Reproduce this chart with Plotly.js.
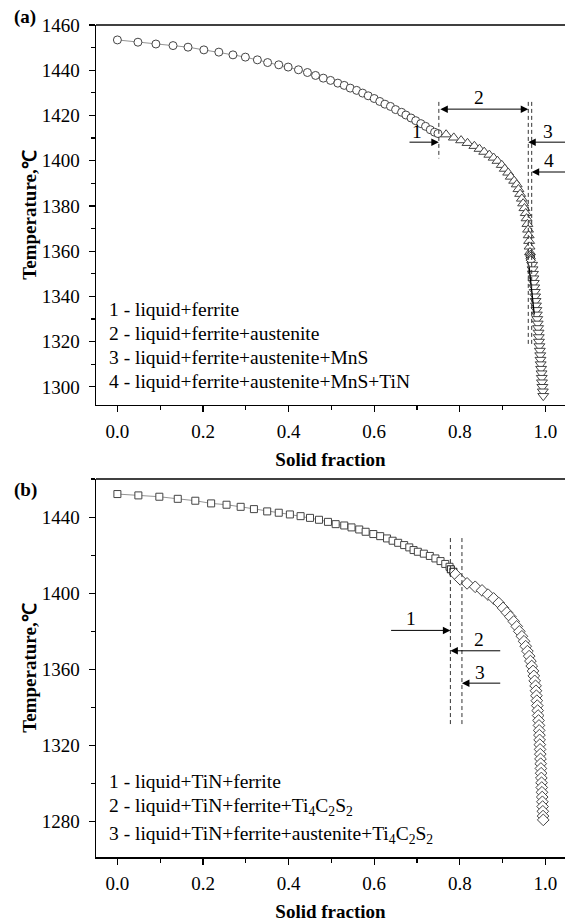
<!DOCTYPE html>
<html>
<head>
<meta charset="utf-8">
<script src="https://cdn.plot.ly/plotly-3.0.1.min.js"></script>
<style>
html,body{margin:0;padding:0;background:#fff;}
#chart{width:565px;height:922px;}
</style>
</head>
<body>
<div id="chart"></div>
<script>
// ---------- (a) Scheil solidification path ----------
// 1 - liquid+ferrite
const fsA1 = [0.000,0.048,0.090,0.130,0.165,0.202,0.237,0.270,0.299,0.327,0.351,0.377,0.399,0.423,0.444,0.463,0.481,0.498,0.515,0.530,0.544,0.559,0.573,0.586,0.600,0.613,0.625,0.638,0.650,0.664,0.674,0.686,0.697,0.709,0.720,0.731,0.741,0.749];
const tA1  = [1453.4,1452.4,1451.6,1450.9,1450.2,1449.0,1448.0,1446.8,1445.8,1444.6,1443.4,1442.4,1441.4,1440.2,1439.0,1437.7,1436.5,1435.5,1434.3,1433.3,1432.1,1431.1,1429.9,1428.7,1427.5,1426.2,1425.0,1424.0,1422.6,1421.4,1420.2,1418.9,1417.7,1416.4,1415.2,1413.7,1412.6,1412.0];
// 2 - liquid+ferrite+austenite
const fsA2 = [0.768,0.786,0.803,0.818,0.834,0.846,0.857,0.869,0.879,0.888,0.898,0.905,0.913,0.919,0.927,0.933,0.937,0.941,0.945,0.948,0.951,0.954,0.956,0.958,0.9595,0.961,0.962,0.963,0.964];
const tA2  = [1411.6,1410.2,1409.0,1407.8,1406.5,1405.2,1403.9,1402.6,1401.3,1399.9,1398.1,1396.4,1394.7,1392.9,1391.1,1389.5,1387.4,1385.3,1383.2,1381.1,1379.0,1376.8,1374.5,1372.0,1369.5,1367.0,1364.5,1362.0,1359.5];
// 3 - liquid+ferrite+austenite+MnS
const fsA3 = [0.9645,0.965,0.9655,0.966];
const tA3  = [1358.3,1357.5,1356.7,1356.0];
// 4 - liquid+ferrite+austenite+MnS+TiN
const fsA4 = [0.969,0.970,0.971,0.972,0.973,0.974,0.975,0.976,0.977,0.978,0.979,0.980,0.981,0.982,0.983,0.984,0.9845,0.985,0.986,0.987,0.988,0.9885,0.989,0.990,0.991,0.9915,0.992,0.993,0.994,0.995];
const tA4  = [1354,1352,1350,1348,1346,1344,1342,1340,1338,1336,1334,1332,1330,1328,1326,1324,1322,1320,1318,1316,1314,1312,1310,1308,1306,1304,1302,1300,1298,1296];
const fsA4line = [0.962,0.966,0.970,0.974];
const tA4line  = [1353,1346,1339,1332];
// phase boundaries (solid fraction) and labels
const boundA = [0.751,0.960,0.968];
const phaseTextA = ['1 - liquid+ferrite','2 - liquid+ferrite+austenite','3 - liquid+ferrite+austenite+MnS','4 - liquid+ferrite+austenite+MnS+TiN'];

// ---------- (b) Scheil solidification path ----------
// 1 - liquid+TiN+ferrite
const fsB1 = [0.000,0.049,0.098,0.141,0.182,0.219,0.255,0.288,0.319,0.350,0.377,0.403,0.428,0.450,0.471,0.492,0.510,0.530,0.547,0.565,0.580,0.598,0.614,0.630,0.643,0.656,0.670,0.682,0.692,0.702,0.716,0.730,0.743,0.755,0.766,0.776];
const tB1  = [1452.1,1451.4,1450.7,1449.6,1448.6,1447.2,1446.5,1445.4,1444.2,1443.0,1442.3,1441.4,1440.5,1439.6,1438.6,1437.5,1436.3,1435.6,1434.6,1433.5,1432.3,1431.1,1430.0,1428.8,1427.6,1426.5,1425.3,1424.1,1422.7,1421.8,1420.8,1419.6,1418.3,1416.9,1415.4,1413.9];
// 2 - liquid+TiN+ferrite+Ti4C2S2
const fsB2 = [0.779,0.785];
const tB2  = [1412.6,1411.3];
// 3 - liquid+TiN+ferrite+austenite+Ti4C2S2
const fsB3 = [0.790,0.801,0.817,0.836,0.852,0.866,0.879,0.891,0.901,0.910,0.918,0.926,0.933,0.939,0.945,0.950,0.954,0.958,0.962,0.965,0.968,0.971,0.973,0.975,0.977,0.978,
              0.979,0.980,0.981,0.982,0.983,0.984,0.985,0.9855,0.986,0.9865,0.987,0.9875,0.988,0.9885,0.989,0.9895,0.990,0.9905,0.991,0.9915,0.992,0.9925,0.993,0.9935,0.994,0.9945,0.995];
const tB3  = [1409.9,1407.3,1405.2,1403.4,1401.5,1399.3,1397.3,1394.9,1392.3,1389.9,1387.7,1385.2,1382.6,1380.0,1377.4,1374.8,1372.2,1369.6,1367.0,1364.4,1361.8,1359.2,1356.6,1354.0,1351.4,1348.8,
              1346.2,1343.6,1341.0,1338.4,1335.8,1333.2,1330.6,1328.0,1325.5,1323.0,1320.5,1318.0,1315.5,1313.0,1310.5,1308.0,1305.5,1303.0,1300.5,1298.0,1295.5,1293.0,1290.5,1288.0,1285.5,1283.0,1281.0];
const boundB = [0.778,0.805];
const phaseTextB = ['1 - liquid+TiN+ferrite','2 - liquid+TiN+ferrite+Ti<sub>4</sub>C<sub>2</sub>S<sub>2</sub>','3 - liquid+TiN+ferrite+austenite+Ti<sub>4</sub>C<sub>2</sub>S<sub>2</sub>'];

const xTicks = [0,0.2,0.4,0.6,0.8,1.0];

// ---------- styling ----------
const FONT = 'Liberation Serif, Times New Roman, serif';
const INK = '#000';
const TXT = 19.5;
function mk(symbol, size, lineColor){
  return {symbol:symbol, size:size, color:'#fff', line:{color:lineColor, width:1}};
}
function series(x, y, xa, ya, marker, withLine){
  return {x:x, y:y, xaxis:xa, yaxis:ya, type:'scatter',
    mode: withLine ? 'lines+markers' : 'markers',
    line:{color:'#777', width:0.8}, marker:marker, cliponaxis:false, hoverinfo:'x+y'};
}

const traces = [
  series(fsA1, tA1, 'x', 'y', mk('circle', 8, '#444'), true),
  series(fsA2, tA2, 'x', 'y', mk('triangle-up', 9.5, '#444'), false),
  series(fsA3, tA3, 'x', 'y', mk('diamond', 7, '#111'), false),
  series(fsA4, tA4, 'x', 'y', mk('triangle-down', 9.5, '#444'), false),
  {x:fsA4line, y:tA4line, xaxis:'x', yaxis:'y', type:'scatter', mode:'lines', line:{color:'#000', width:1.3}, hoverinfo:'x+y'},
  series(fsB1, tB1, 'x2', 'y2', mk('square', 7, '#444'), true),
  series(fsB2, tB2, 'x2', 'y2', mk('square', 7, '#111'), false),
  series(fsB3, tB3, 'x2', 'y2', mk('diamond', 9, '#444'), false)
];

function xAxis(anchor){
  return {anchor:anchor, range:[-0.05,1.0458], tickvals:xTicks, tickformat:'.1f',
    showline:true, linecolor:INK, linewidth:1.5, ticks:'outside', ticklen:6, tickwidth:1.2, tickcolor:INK,
    minor:{dtick:0.1, tick0:0, ticks:'outside', ticklen:4, tickwidth:1.2, tickcolor:INK},
    showgrid:false, zeroline:false, ticklabelstandoff:3,
    tickfont:{family:FONT, size:19, color:INK},
    title:{text:'<b>Solid fraction</b>', font:{family:FONT, size:19, color:INK}, standoff:11}};
}
function yAxis(range, dtick, mdtick, domain, anchor){
  return {anchor:anchor, domain:domain, range:range, dtick:dtick, tick0:0,
    showline:true, linecolor:INK, linewidth:1.5, ticks:'outside', ticklen:6, tickwidth:1.2, tickcolor:INK,
    minor:{dtick:mdtick, tick0:0, ticks:'outside', ticklen:4, tickwidth:1.2, tickcolor:INK},
    showgrid:false, zeroline:false, ticklabelstandoff:5,
    tickfont:{family:FONT, size:19, color:INK},
    title:{text:'<b>Temperature,℃</b>', font:{family:FONT, size:19, color:INK}, standoff:0}};
}

const shapes = [];
const annotations = [];
function frameTop(xa, ya){
  shapes.push({type:'line', xref:xa+' domain', yref:ya+' domain', x0:0, x1:1, y0:1, y1:1, line:{color:INK, width:1.5}});
}
function vdash(xa, ya, fs, tTop, tBot){
  shapes.push({type:'line', xref:xa, yref:ya, x0:fs, x1:fs, y0:tTop, y1:tBot, line:{color:'#333', width:1, dash:'4px,3px'}});
}
function arrow(xa, ya, xHead, xTail, t, both){
  annotations.push({xref:xa, yref:ya, axref:xa, ayref:ya, x:xHead, y:t, ax:xTail, ay:t, text:'',
    showarrow:true, arrowhead:2, arrowsize:1.5, arrowwidth:1, arrowcolor:INK,
    arrowside: both ? 'end+start' : 'end', startarrowhead:2, startarrowsize:1.5, standoff:0, startstandoff:0});
}
function label(xa, ya, x, y, text, anchor){
  annotations.push({xref:xa, yref:ya, x:x, y:y, text:text, showarrow:false, xanchor:anchor||'center', yanchor:'middle',
    font:{family:FONT, size:TXT, color:INK}});
}

// panel (a) guides
frameTop('x','y');
vdash('x','y', boundA[0], 1426, 1401);
vdash('x','y', boundA[1], 1426, 1319);
vdash('x','y', boundA[2], 1426, 1319);
arrow('x','y', boundA[1], boundA[0], 1422.8, true);
arrow('x','y', boundA[0], 0.679, 1408.2, false);
arrow('x','y', boundA[1], 1.05, 1408.2, false);
arrow('x','y', boundA[2], 1.05, 1395.0, false);
label('x','y', 0.846, 1428, '2');
label('x','y', 0.700, 1413, '1');
label('x','y', 1.006, 1413, '3');
label('x','y', 1.008, 1400, '4');
const listTA = [1334, 1323.5, 1313, 1302.5];
phaseTextA.forEach((s,i)=>label('x','y', -0.024, listTA[i], s, 'left'));

// panel (b) guides
frameTop('x2','y2');
vdash('x2','y2', boundB[0], 1429, 1331);
vdash('x2','y2', boundB[1], 1429, 1331);
arrow('x2','y2', boundB[0], 0.636, 1380.5, false);
arrow('x2','y2', boundB[0], 0.898, 1369.8, false);
arrow('x2','y2', boundB[1], 0.898, 1352.8, false);
label('x2','y2', 0.686, 1386.5, '1');
label('x2','y2', 0.844, 1375.5, '2');
label('x2','y2', 0.847, 1358.5, '3');
const listTB = [1301, 1287.7, 1273];
phaseTextB.forEach((s,i)=>label('x2','y2', -0.024, listTB[i], s, 'left'));

// panel tags
annotations.push({xref:'paper', yref:'paper', x:-0.151, y:1.01, text:'<b>(a)</b>', showarrow:false, xanchor:'center', yanchor:'middle', font:{family:FONT, size:19, color:INK}});
annotations.push({xref:'paper', yref:'paper', x:-0.151, y:0.441, text:'<b>(b)</b>', showarrow:false, xanchor:'center', yanchor:'middle', font:{family:FONT, size:19, color:INK}});

const layout = {
  width:565, height:922,
  margin:{l:96, r:0, t:25, b:65},
  paper_bgcolor:'#fff', plot_bgcolor:'#fff',
  showlegend:false,
  font:{family:FONT, size:19, color:INK},
  xaxis: xAxis('y'),
  yaxis: yAxis([1292,1460], 20, 10, [0.5433,1], 'x'),
  xaxis2: xAxis('y2'),
  yaxis2: yAxis([1261.5,1460], 40, 20, [0,0.4543], 'x2'),
  shapes: shapes,
  annotations: annotations
};

Plotly.newPlot('chart', traces, layout, {displayModeBar:false, staticPlot:true});
</script>
</body>
</html>
